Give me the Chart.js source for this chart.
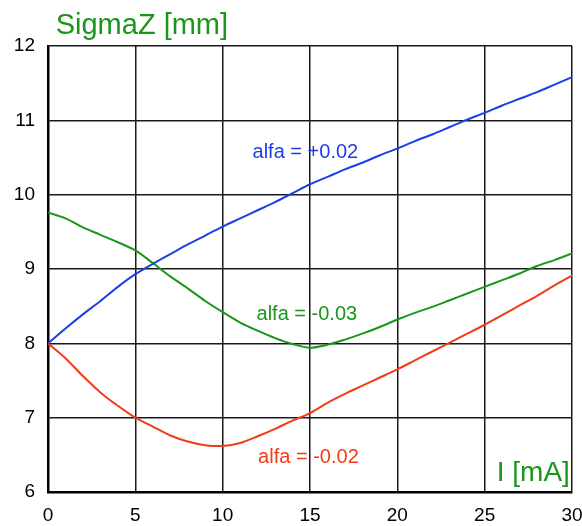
<!DOCTYPE html>
<html><head><meta charset="utf-8">
<script src="https://cdn.jsdelivr.net/npm/chart.js@4/dist/chart.umd.min.js"></script>
<style>html,body{margin:0;padding:0;background:#fff;}canvas{display:block;}</style>
</head><body>
<canvas id="c" width="582" height="526"></canvas>
<script>
const current = [0,1,2,3,4,5,6,7,8,9,10,11,12,13,14,15,16,17,18,19,20,21,22,23,24,25,26,27,28,29,30];
const alfaPlus002 = [8.00,8.20,8.39,8.57,8.76,8.93,9.07,9.20,9.33,9.45,9.57,9.68,9.79,9.90,10.02,10.14,10.24,10.34,10.43,10.53,10.62,10.72,10.81,10.91,11.01,11.10,11.20,11.29,11.38,11.48,11.58];
const alfaMinus003 = [9.76,9.68,9.56,9.46,9.36,9.25,9.08,8.90,8.74,8.57,8.42,8.28,8.17,8.07,7.99,7.94,7.98,8.05,8.13,8.22,8.32,8.41,8.49,8.58,8.67,8.76,8.85,8.94,9.04,9.12,9.21];
const alfaMinus002 = [8.00,7.80,7.56,7.34,7.16,7.00,6.88,6.76,6.68,6.63,6.62,6.66,6.75,6.85,6.96,7.06,7.20,7.32,7.43,7.54,7.65,7.77,7.89,8.01,8.13,8.25,8.38,8.51,8.64,8.78,8.91];
const xTicks = [0,5,10,15,20,25,30];
const yTicks = [6,7,8,9,10,11,12];
const seriesNames = ['alfa = +0.02','alfa = -0.03','alfa = -0.02'];
const yTitle = 'SigmaZ [mm]';
const xTitle = 'I [mA]';

const BLUE = '#1f3fe6', GREEN = '#1a961a', RED = '#f03c18';
const FONT = '"Liberation Sans", Arial, sans-serif';
const pts = arr => current.map((x,i)=>({x:x,y:arr[i]}));

const labelPlugin = {
  id:'labels',
  afterDraw(chart){
    const ctx = chart.ctx, xs = chart.scales.x, ys = chart.scales.y;
    ctx.save();
    ctx.textAlign='left'; ctx.textBaseline='alphabetic';
    const put=(t,x,y,c,f)=>{ctx.fillStyle=c;ctx.font=f;ctx.fillText(t,xs.getPixelForValue(x),ys.getPixelForValue(y));};
    put(seriesNames[0],11.71,10.50,BLUE,'20px '+FONT);
    put(seriesNames[1],11.94,8.313,GREEN,'20px '+FONT);
    put(seriesNames[2],12.03,6.395,RED,'20px '+FONT);
    put(xTitle,25.69,6.153,GREEN,'28px '+FONT);
    put(yTitle,0.44,12.164,GREEN,'29px '+FONT);
    ctx.restore();
  }
};

new Chart(document.getElementById('c'),{
  type:'line',
  data:{datasets:[
    {label:seriesNames[0],data:pts(alfaPlus002),borderColor:BLUE,borderWidth:2,pointRadius:0,tension:0.3,fill:false},
    {label:seriesNames[1],data:pts(alfaMinus003),borderColor:GREEN,borderWidth:2,pointRadius:0,tension:0.3,fill:false},
    {label:seriesNames[2],data:pts(alfaMinus002),borderColor:RED,borderWidth:2,pointRadius:0,tension:0.3,fill:false}
  ]},
  options:{
    responsive:false,animation:false,
    layout:{padding:{top:46,right:0,left:0,bottom:0}},
    plugins:{legend:{display:false},tooltip:{enabled:false}},
    scales:{
      x:{type:'linear',min:0,max:30,
        afterBuildTicks(s){s.ticks=xTicks.map(v=>({value:v}));},
        afterFit(s){s.height=34;s.paddingLeft=0;s.paddingRight=10;},
        grid:{color:'#1a1a1a',lineWidth:1.5,drawTicks:false},
        border:{color:'#000',width:2.5},
        ticks:{color:'#000',font:{family:FONT,size:19},padding:12,maxRotation:0}},
      y:{type:'linear',min:6,max:12,
        afterBuildTicks(s){s.ticks=yTicks.map(v=>({value:v}));},
        afterFit(s){s.width=48;s.paddingTop=0;s.paddingBottom=0;},
        grid:{color:'#1a1a1a',lineWidth:1.5,drawTicks:false},
        border:{color:'#000',width:2.5},
        ticks:{color:'#000',font:{family:FONT,size:19},padding:13}}
    }
  },
  plugins:[labelPlugin]
});
</script>
</body></html>
